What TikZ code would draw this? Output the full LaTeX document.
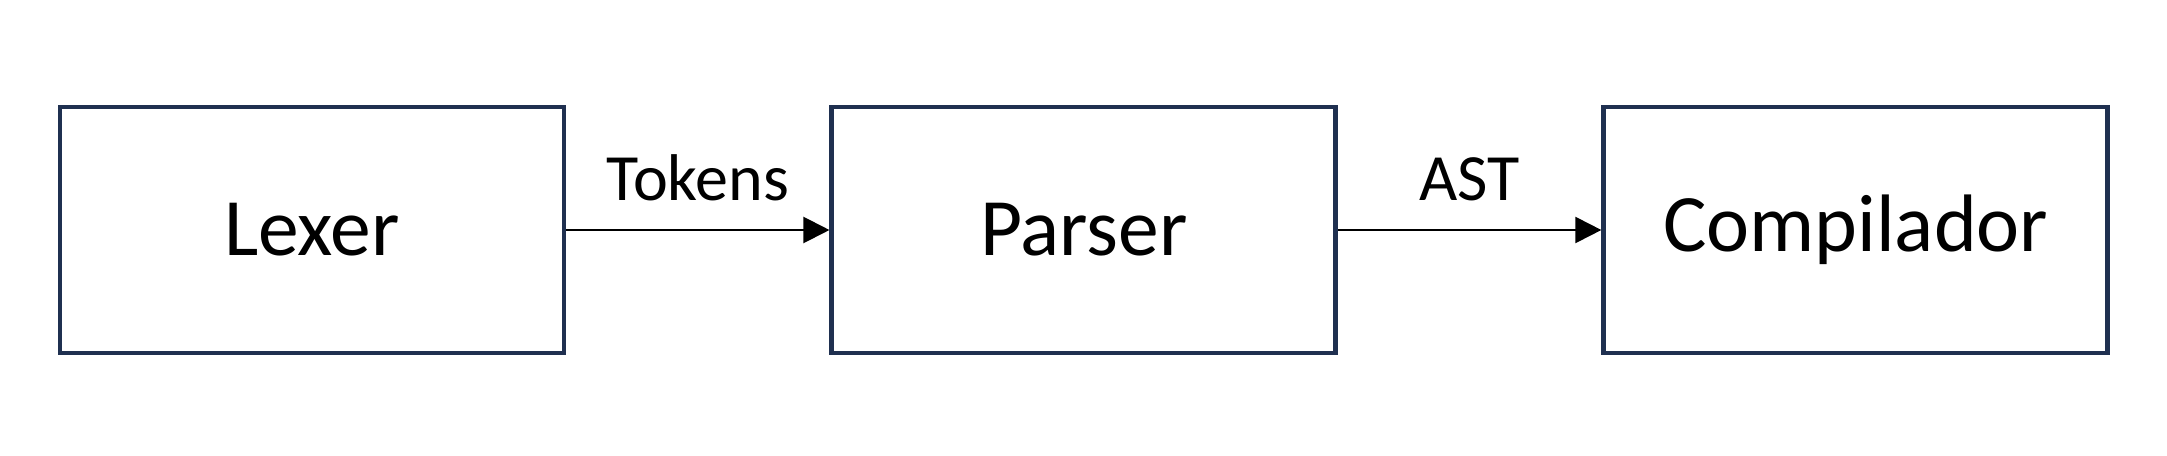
\documentclass[tikz,border=0pt]{standalone}
\usepackage{fontspec}
\setmainfont{Carlito}
\usetikzlibrary{positioning,arrows.meta}
\definecolor{boxblue}{HTML}{1F3050}
\begin{document}
\begin{tikzpicture}[
  block/.style={rectangle, draw=boxblue, line width=1.4pt, minimum width=5.04cm, minimum height=2.46cm, font=\fontsize{23.2}{26}\selectfont, align=center},
  flow/.style={-{Triangle[length=0.26cm,width=0.26cm]}, line width=0.6pt},
  node distance=2.63cm,
  font=\fontsize{18.8}{22}\selectfont
]
\useasboundingbox (0,0) rectangle (21.67,-4.56);
\node[block] (lexer) at (3.12,-2.30) {Lexer};
\node[block, right=of lexer] (parser) {Parser};
\node[block, right=of parser] (compiler) {Compilador};

\draw[flow] (lexer) -- node[above, inner sep=0.28cm] (tokens) {Tokens} (parser);
\draw[flow] (parser) -- node[above, inner sep=0.28cm] (ast) {AST} (compiler);
\end{tikzpicture}
\end{document}
